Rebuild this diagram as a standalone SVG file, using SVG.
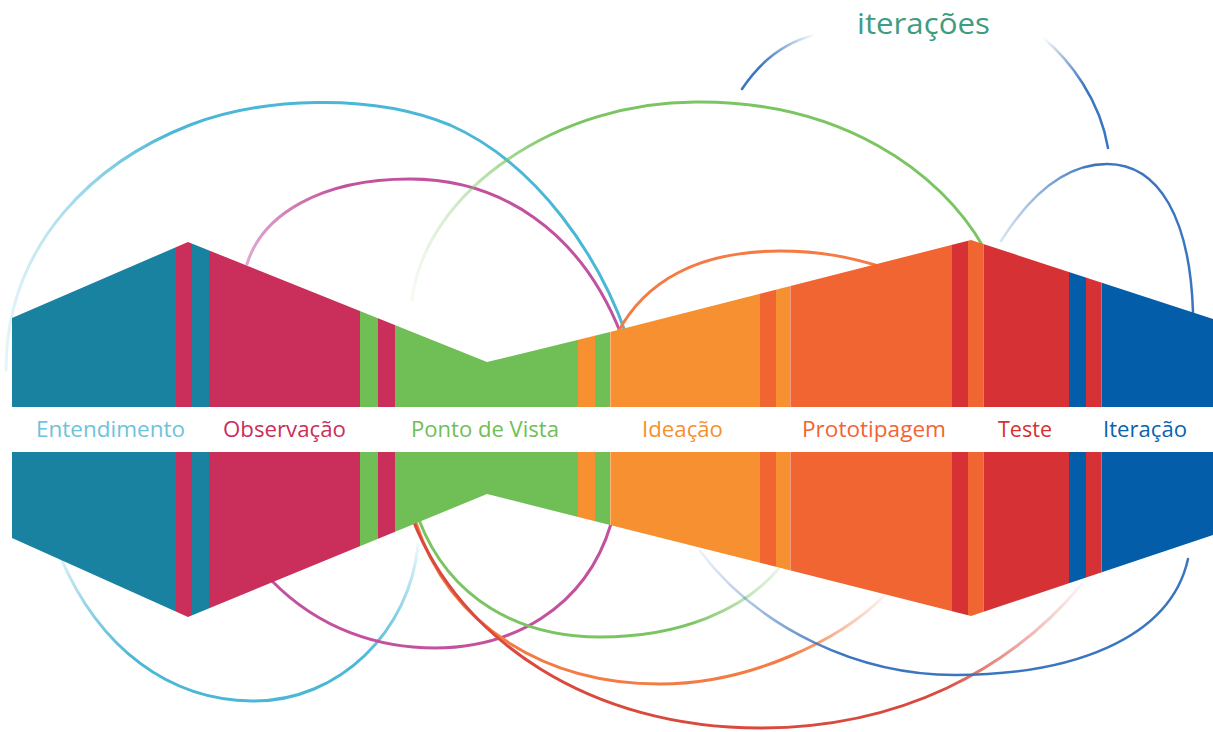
<svg xmlns="http://www.w3.org/2000/svg" width="1213" height="732" viewBox="0 0 1213 732">
<style>
.lbl{font-family:"Open Sans","Noto Sans","Liberation Sans",sans-serif;font-size:21px}
.arc{fill:none;stroke-linecap:round}
.teal{fill:#1A82A1}.crim{fill:#CA2E5A}.grn{fill:#70BF56}.org{fill:#F69031}.ored{fill:#F16532}.red{fill:#D63134}.blu{fill:#045DA8}
.sep{stroke:#ffffff;stroke-opacity:0.35;stroke-width:1}
</style>
<defs>
<clipPath id="bandClip">
<polygon points="12,318 188,242 487,362 610,332 971,240 1213,319 1213,407 12,407"/>
<polygon points="12,452 1213,452 1213,535 971,616 610,525 487,494 188,617 12,538"/>
</clipPath>
<linearGradient id="gCyanTop" gradientUnits="userSpaceOnUse" x1="6" y1="0" x2="170" y2="0"><stop offset="0" stop-color="#4AB7D6" stop-opacity="0.15"/><stop offset="1" stop-color="#4AB7D6"/></linearGradient>
<linearGradient id="gMagTop" gradientUnits="userSpaceOnUse" x1="247" y1="0" x2="340" y2="0"><stop offset="0" stop-color="#C2519E" stop-opacity="0.5"/><stop offset="1" stop-color="#C2519E"/></linearGradient>
<linearGradient id="gGrnTop" gradientUnits="userSpaceOnUse" x1="412" y1="0" x2="560" y2="0"><stop offset="0" stop-color="#7BC462" stop-opacity="0.08"/><stop offset="1" stop-color="#7BC462"/></linearGradient>
<linearGradient id="gBluL" gradientUnits="userSpaceOnUse" x1="760" y1="0" x2="815" y2="0"><stop offset="0" stop-color="#3A76BF"/><stop offset="1" stop-color="#3A76BF" stop-opacity="0"/></linearGradient>
<linearGradient id="gBluR" gradientUnits="userSpaceOnUse" x1="1043" y1="0" x2="1085" y2="0"><stop offset="0" stop-color="#3A76BF" stop-opacity="0"/><stop offset="1" stop-color="#3A76BF"/></linearGradient>
<linearGradient id="gBluLoop" gradientUnits="userSpaceOnUse" x1="1001" y1="0" x2="1090" y2="0"><stop offset="0" stop-color="#3A76BF" stop-opacity="0.2"/><stop offset="1" stop-color="#3A76BF"/></linearGradient>
<linearGradient id="gCyanBot" gradientUnits="userSpaceOnUse" x1="0" y1="660" x2="0" y2="545"><stop offset="0" stop-color="#4AB7D6"/><stop offset="1" stop-color="#4AB7D6" stop-opacity="0.1"/></linearGradient>
<linearGradient id="gGrnBot" gradientUnits="userSpaceOnUse" x1="690" y1="0" x2="780" y2="0"><stop offset="0" stop-color="#7BC462"/><stop offset="1" stop-color="#7BC462" stop-opacity="0.15"/></linearGradient>
<linearGradient id="gOrgBot" gradientUnits="userSpaceOnUse" x1="790" y1="0" x2="884" y2="0"><stop offset="0" stop-color="#F47B43"/><stop offset="1" stop-color="#F47B43" stop-opacity="0.1"/></linearGradient>
<linearGradient id="gRedBot" gradientUnits="userSpaceOnUse" x1="940" y1="0" x2="1082" y2="0"><stop offset="0" stop-color="#D9493D"/><stop offset="1" stop-color="#D9493D" stop-opacity="0.05"/></linearGradient>
<linearGradient id="gBluBot" gradientUnits="userSpaceOnUse" x1="700" y1="0" x2="840" y2="0"><stop offset="0" stop-color="#3A76BF" stop-opacity="0.1"/><stop offset="1" stop-color="#3A76BF"/></linearGradient>
</defs>
<rect width="1213" height="732" fill="#ffffff"/>

<g id="connectors">
<path class="arc" stroke="url(#gCyanTop)" stroke-width="3" d="M6,370 C6,240 100,160 190,125 C260,98 370,92 450,125 C540,165 600,260 626,334"/>
<path class="arc" stroke="url(#gMagTop)" stroke-width="3" d="M247,264 C262,215 320,179 410,179 C500,179 580,230 621,334"/>
<path class="arc" stroke="url(#gGrnTop)" stroke-width="3" d="M412,300 C425,190 560,100 700,102 C840,102 940,170 984,248"/>
<path class="arc" stroke="#F47B43" stroke-width="3" d="M617,334 C645,280 700,251 780,251 C820,251 850,257 885,268"/>
<path class="arc" stroke="url(#gBluL)" stroke-width="2.5" d="M742,89 C760,62 785,42 815,35"/>
<path class="arc" stroke="url(#gBluR)" stroke-width="2.5" d="M1043,38 C1070,60 1100,100 1108,148"/>
<path class="arc" stroke="url(#gBluLoop)" stroke-width="2.5" d="M1001,241 C1030,195 1065,164 1107,164 C1160,164 1190,220 1193,312"/>
<path class="arc" stroke="url(#gCyanBot)" stroke-width="3" d="M60,556 C100,650 170,700 252,701 C340,702 410,630 418,545"/>
<path class="arc" stroke="#C2519E" stroke-width="3" d="M272,581 C320,630 380,648 435,648 C510,648 585,610 611,524"/>
<path class="arc" stroke="url(#gGrnBot)" stroke-width="3" d="M419,520 C450,600 520,637 600,637 C680,637 745,610 780,567"/>
<path class="arc" stroke="url(#gOrgBot)" stroke-width="3" d="M415,520 C450,630 550,684 660,684 C750,684 840,640 884,596"/>
<path class="arc" stroke="url(#gRedBot)" stroke-width="3" d="M413,520 C460,640 590,728 760,728 C900,728 1010,670 1082,584"/>
<path class="arc" stroke="url(#gBluBot)" stroke-width="2.5" d="M700,551 C760,630 860,675 955,675 C1070,675 1170,640 1188,559"/>
</g>

<g id="entendimento">
<g clip-path="url(#bandClip)">
<rect class="teal" x="12" y="230" width="164" height="400"/>
<rect class="crim" x="176" y="230" width="16" height="400"/>
<rect class="teal" x="192" y="230" width="17" height="400"/>
</g>
<text class="lbl" x="36" y="437" fill="#6EC3DA" textLength="149" lengthAdjust="spacingAndGlyphs">Entendimento</text>
</g>

<g id="observacao">
<g clip-path="url(#bandClip)">
<rect class="crim" x="209" y="230" width="151" height="400"/>
<rect class="grn" x="360" y="230" width="18" height="400"/>
<rect class="crim" x="378" y="230" width="17" height="400"/>
</g>
<text class="lbl" x="223" y="437" fill="#C92E5A" textLength="123" lengthAdjust="spacingAndGlyphs">Observação</text>
</g>

<g id="ponto-de-vista">
<g clip-path="url(#bandClip)">
<rect class="grn" x="395" y="230" width="183" height="400"/>
<rect class="org" x="578" y="230" width="17" height="400"/>
<rect class="grn" x="595" y="230" width="15" height="400"/>
</g>
<text class="lbl" x="411" y="437" fill="#6FBE57" textLength="148" lengthAdjust="spacingAndGlyphs">Ponto de Vista</text>
</g>

<g id="ideacao">
<g clip-path="url(#bandClip)">
<rect class="org" x="610" y="230" width="150" height="400"/>
<rect class="ored" x="760" y="230" width="16" height="400"/>
<rect class="org" x="776" y="230" width="14" height="400"/>
<line class="sep" x1="610.5" y1="230" x2="610.5" y2="630"/>
</g>
<text class="lbl" x="642" y="437" fill="#F6902F" textLength="81" lengthAdjust="spacingAndGlyphs">Ideação</text>
</g>

<g id="prototipagem">
<g clip-path="url(#bandClip)">
<rect class="ored" x="790" y="230" width="162" height="400"/>
<rect class="red" x="952" y="230" width="16" height="400"/>
<rect class="ored" x="968" y="230" width="15" height="400"/>
<line class="sep" x1="790.5" y1="230" x2="790.5" y2="630"/>
</g>
<text class="lbl" x="802" y="437" fill="#F26431" textLength="144" lengthAdjust="spacingAndGlyphs">Prototipagem</text>
</g>

<g id="teste">
<g clip-path="url(#bandClip)">
<rect class="red" x="983" y="230" width="86" height="400"/>
<rect class="blu" x="1069" y="230" width="17" height="400"/>
<rect class="red" x="1086" y="230" width="15" height="400"/>
<line class="sep" x1="983.5" y1="230" x2="983.5" y2="630"/>
</g>
<text class="lbl" x="998" y="437" fill="#D63033" textLength="54" lengthAdjust="spacingAndGlyphs">Teste</text>
</g>

<g id="iteracao">
<g clip-path="url(#bandClip)">
<rect class="blu" x="1101" y="230" width="112" height="400"/>
<line class="sep" x1="1101.5" y1="230" x2="1101.5" y2="630"/>
</g>
<text class="lbl" x="1103" y="437" fill="#0A63AE" textLength="84" lengthAdjust="spacingAndGlyphs">Iteração</text>
</g>

<g id="iteracoes">
<text x="857" y="34" fill="#3E9C80" font-family="'Open Sans','Noto Sans','Liberation Sans',sans-serif" font-size="30" textLength="133" lengthAdjust="spacingAndGlyphs">iterações</text>
</g>
</svg>
